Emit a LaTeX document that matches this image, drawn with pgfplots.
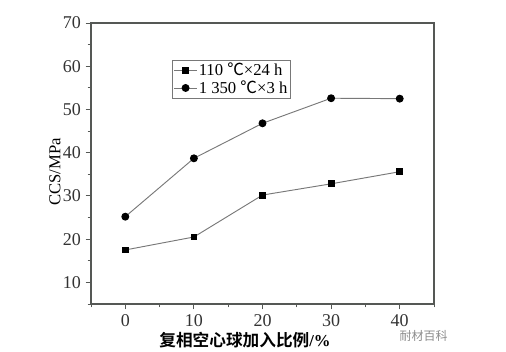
\documentclass[border=0pt]{standalone}
\usepackage{pgfplots}
\pgfplotsset{compat=1.18}
\usepackage{fontspec}
\setmainfont{Liberation Serif}
\newfontfamily\cjk{Noto Sans CJK SC}
\newfontfamily\cjkb{Noto Sans CJK SC Bold}
\newcommand{\degc}{{\cjk ℃}}
\definecolor{axgray}{RGB}{85,88,85}
\definecolor{lngray}{RGB}{120,120,120}
\begin{document}
\begin{tikzpicture}
\path[use as bounding box] (0,0) rectangle (379.5pt,264pt);
\begin{axis}[
  at={(68.25pt,36pt)}, anchor=south west,
  scale only axis, width=257.25pt, height=210.75pt,
  xmin=-5, xmax=45, ymin=5, ymax=70,
  xtick={0,10,20,30,40}, ytick={10,20,30,40,50,60,70},
  minor xtick={-5,5,15,25,35,45}, minor ytick={5,15,25,35,45,55,65},
  axis line style={axgray, line width=0.9pt},
  tick style={axgray, line width=0.7pt},
  tick align=outside,
  major tick length=4pt, minor tick length=2.5pt,
  xtick pos=bottom, ytick pos=left,
  /pgf/number format/assume math mode=true,
  tick label style={font=\fontsize{13.5}{15}\selectfont, text=black!80},
  xlabel={\cjkb 复相空心球加入比例\normalfont\bfseries/\%},
  xlabel style={font=\fontsize{12.5}{14}\selectfont, at={(axis description cs:0.449,-0.128)}, anchor=center},
  ylabel={CCS/MPa},
  ylabel style={font=\fontsize{12.5}{14}\selectfont, at={(axis description cs:-0.105,0.47)}, anchor=center, rotate=0},
  legend style={at={(axis description cs:0.236,0.868)}, anchor=north west,
    draw=lngray, line width=0.7pt, font=\fontsize{12.5}{13}\selectfont, inner sep=1pt,
    row sep=0pt, nodes={inner sep=1pt}},
  legend cell align=left,
  clip=false,
]
\addplot[lngray, line width=0.7pt, mark=square*, mark size=2.2pt, mark options={black, fill=black, solid}]
  coordinates {(0,17.5) (10,20.5) (20,30.2) (30,32.8) (40,35.6)};
\addlegendentry{110 \degc×24 h}
\addplot[lngray, line width=0.7pt, mark=*, mark size=2.6pt, mark options={black, fill=black, solid}]
  coordinates {(0,25.2) (10,38.7) (20,46.8) (30,52.6) (40,52.5)};
\addlegendentry{1 350 \degc×3 h}
\node[font=\cjk\fontsize{9}{10}\selectfont, text=black!45] at (axis description cs:0.97,-0.115) {耐材百科};
\end{axis}
\end{tikzpicture}
\end{document}
